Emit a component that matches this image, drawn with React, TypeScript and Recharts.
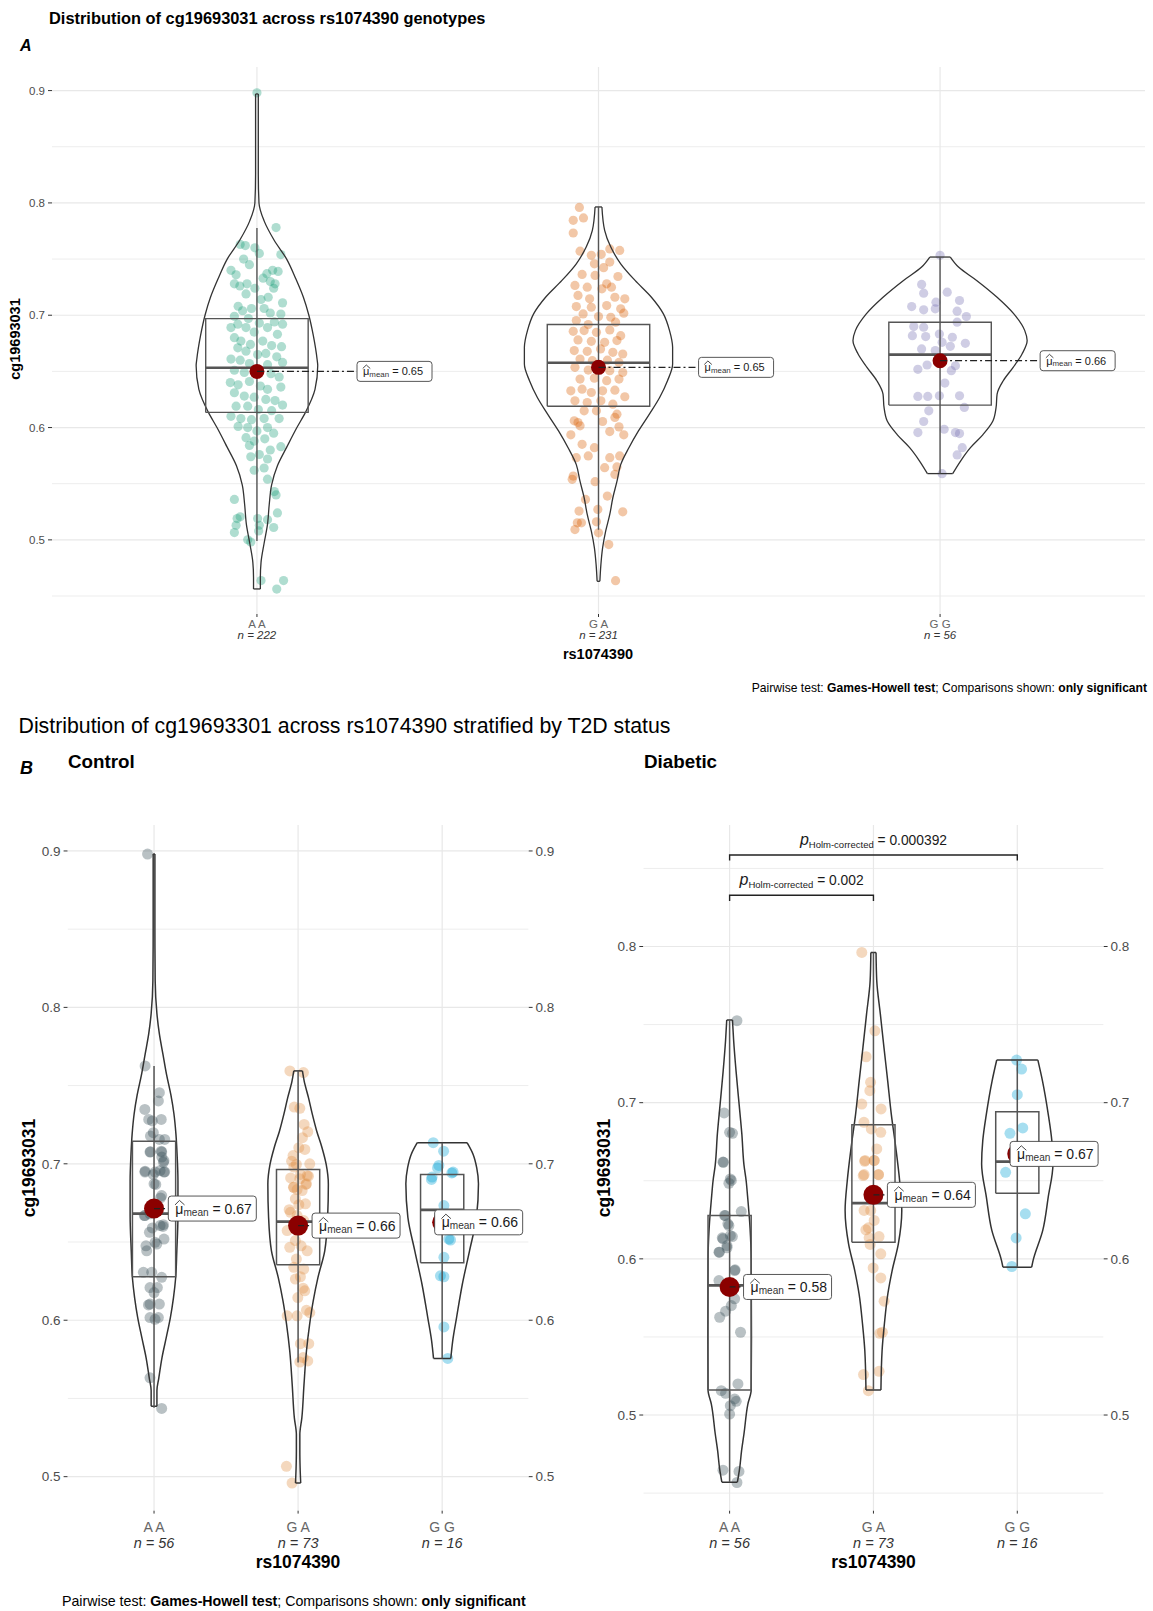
import React from 'react';
import { ComposedChart, Scatter, XAxis, YAxis } from 'recharts';

const FONT = '"Liberation Sans", Arial, Helvetica, sans-serif';

// ---------- categories ----------
const genotypeLabels = ['A A', 'G A', 'G G'];
const nPanelA = [222, 231, 56];
const nControl = [56, 73, 16];
const nDiabetic = [56, 73, 16];

const colorsA = ['#1b9e77', '#d95f02', '#7570b3'];
const colorsB = ['#374E55', '#DF8F44', '#00A1D5'];

// ---------- Panel A: violins [value, half-width] ----------
const violinA_AA = [[0.4563,0.01],[0.4665,0.01],[0.48,0.012],[0.497,0.021],[0.514,0.031],[0.5315,0.036],[0.549,0.043],[0.566,0.06],[0.583,0.088],[0.6,0.117],[0.6135,0.142],[0.634,0.17],[0.655,0.178],[0.661,0.176],[0.682,0.165],[0.7,0.152],[0.716,0.136],[0.733,0.113],[0.75,0.087],[0.767,0.05],[0.784,0.021],[0.8,0.006],[0.8255,0.004],[0.897,0.004]];
const violinA_GA = [[0.4631,0.004],[0.478,0.007],[0.4929,0.012],[0.5077,0.021],[0.5226,0.033],[0.5375,0.042],[0.552,0.054],[0.567,0.065],[0.582,0.089],[0.597,0.117],[0.612,0.149],[0.6268,0.179],[0.6417,0.202],[0.6565,0.217],[0.6714,0.217],[0.6863,0.208],[0.7012,0.19],[0.716,0.155],[0.731,0.107],[0.7458,0.065],[0.7607,0.036],[0.7756,0.018],[0.7964,0.01]];
const violinA_GG = [[0.559,0.037],[0.5702,0.06],[0.5821,0.089],[0.5935,0.125],[0.606,0.155],[0.6179,0.164],[0.6298,0.167],[0.6417,0.185],[0.6536,0.214],[0.6655,0.24],[0.6774,0.255],[0.6863,0.248],[0.7012,0.216],[0.716,0.167],[0.731,0.107],[0.7429,0.054],[0.7518,0.03]];

// boxes: [q1, median, q3, whiskerLow, whiskerHigh]
const boxesA = [[0.6135,0.6532,0.697,0.499,0.7776],[0.619,0.6577,0.6917,0.509,0.7964],[0.62,0.6649,0.6938,0.559,0.7518]];
const meansA = [0.65, 0.6536, 0.6595];
const meanLabelsA = ['0.65', '0.65', '0.66'];

// jitter points [offset, value]
const pointsA_AA = [[0,0.898],[0.056,0.778],[-0.049,0.763],[-0.034,0.762],[-0.006,0.76],[0.007,0.755],[0.07,0.754],[-0.039,0.75],[-0.022,0.745],[-0.076,0.74],[-0.061,0.736],[0.029,0.737],[0.046,0.74],[0.062,0.739],[0.018,0.733],[0.039,0.73],[0.053,0.728],[-0.066,0.728],[-0.05,0.726],[-0.029,0.728],[-0.006,0.724],[-0.032,0.719],[0.012,0.714],[0.033,0.716],[0.049,0.724],[0.075,0.711],[-0.055,0.708],[-0.042,0.704],[-0.016,0.706],[0.021,0.706],[0.039,0.702],[0.07,0.701],[-0.066,0.699],[-0.025,0.697],[0.007,0.693],[0.051,0.694],[0.075,0.692],[-0.076,0.689],[-0.056,0.692],[-0.032,0.689],[-0.008,0.685],[0.031,0.689],[0.06,0.683],[-0.066,0.68],[-0.047,0.677],[-0.019,0.674],[0.017,0.677],[0.043,0.673],[0.072,0.672],[-0.056,0.671],[-0.032,0.668],[0.002,0.665],[0.026,0.666],[0.058,0.663],[-0.076,0.661],[-0.049,0.66],[-0.022,0.657],[0.031,0.656],[0.075,0.658],[-0.066,0.651],[-0.037,0.649],[0.041,0.648],[0.065,0.645],[-0.078,0.64],[-0.055,0.638],[-0.022,0.641],[0.01,0.637],[0.031,0.634],[0.07,0.636],[-0.066,0.631],[-0.037,0.628],[-0.008,0.627],[0.026,0.625],[0.053,0.624],[0.075,0.62],[-0.061,0.619],[-0.027,0.619],[0.004,0.616],[0.043,0.615],[-0.076,0.61],[-0.047,0.608],[-0.016,0.607],[0.021,0.608],[0.065,0.608],[-0.055,0.601],[-0.027,0.6],[0,0.597],[0.031,0.6],[0.049,0.595],[-0.032,0.591],[-0.008,0.588],[0.023,0.59],[0.07,0.583],[-0.022,0.584],[0.039,0.58],[-0.018,0.574],[0.007,0.576],[0.031,0.572],[-0.008,0.562],[0.021,0.564],[0.031,0.554],[0.051,0.543],[0.056,0.54],[-0.066,0.536],[0.06,0.524],[-0.049,0.5205],[-0.058,0.519],[0.002,0.519],[0.031,0.518],[-0.061,0.513],[0.007,0.513],[0.049,0.511],[-0.066,0.5065],[0.005,0.508],[-0.027,0.5],[-0.018,0.498],[0.012,0.4638],[0.078,0.4638],[0.058,0.4562]];
const pointsA_GA = [[-0.056,0.796],[-0.074,0.7845],[-0.044,0.7866],[-0.074,0.7732],[-0.054,0.757],[0.033,0.759],[0.062,0.7577],[-0.021,0.7533],[0.008,0.7542],[0.033,0.7473],[-0.012,0.7458],[0.015,0.7423],[-0.048,0.7363],[-0.01,0.7354],[0.057,0.7345],[0.024,0.728],[-0.069,0.7265],[-0.033,0.725],[0.01,0.7235],[0.038,0.725],[-0.06,0.7176],[-0.026,0.7146],[0.048,0.716],[0.077,0.7146],[-0.065,0.7077],[-0.021,0.7071],[0.024,0.7086],[0.065,0.7057],[-0.045,0.7012],[0,0.6988],[0.036,0.6982],[0.074,0.7018],[-0.065,0.6952],[-0.03,0.6917],[0.05,0.6938],[-0.074,0.6857],[-0.042,0.6863],[-0.006,0.6848],[0.033,0.6869],[0.065,0.6818],[-0.06,0.678],[-0.021,0.6768],[0.018,0.6759],[0.054,0.6774],[-0.071,0.6685],[-0.033,0.6679],[0.006,0.67],[0.042,0.667],[0.071,0.6655],[-0.054,0.661],[-0.018,0.6595],[0.026,0.66],[0.06,0.658],[-0.069,0.6536],[-0.03,0.6512],[0.033,0.6506],[0.071,0.649],[-0.054,0.6432],[-0.012,0.644],[0.024,0.6417],[0.06,0.6432],[-0.081,0.6327],[-0.048,0.6342],[-0.021,0.6312],[0.012,0.6327],[0.048,0.6333],[0.077,0.6274],[-0.069,0.6238],[-0.033,0.6223],[0.007,0.6238],[0.042,0.6208],[-0.042,0.6149],[-0.006,0.6149],[0.054,0.6119],[-0.06,0.6045],[-0.054,0.6015],[-0.071,0.606],[0.012,0.6054],[0.048,0.609],[0.06,0.6006],[0.033,0.5964],[0.074,0.5935],[-0.048,0.5851],[-0.012,0.5821],[-0.081,0.5935],[-0.03,0.5747],[-0.065,0.5732],[0.033,0.5732],[0.062,0.5747],[0.018,0.5643],[0.054,0.5649],[-0.074,0.5568],[-0.077,0.5539],[0.048,0.5583],[-0.01,0.5518],[-0.038,0.536],[0.026,0.539],[-0.057,0.5256],[-0.002,0.5271],[0.071,0.525],[-0.062,0.5152],[-0.069,0.5092],[-0.05,0.5152],[-0.006,0.5161],[0,0.5063],[0.03,0.4958],[0.05,0.4637]];
const pointsA_GG = [[0,0.7533],[-0.054,0.7274],[-0.048,0.7196],[0.021,0.7205],[-0.012,0.7116],[0.057,0.7131],[-0.083,0.7077],[-0.048,0.7048],[-0.014,0.7057],[0.05,0.7036],[0.077,0.6988],[0.05,0.6938],[-0.077,0.6899],[-0.048,0.6893],[-0.081,0.6818],[-0.042,0.681],[-0.002,0.6833],[0.036,0.6804],[0.006,0.6759],[0.074,0.675],[0.03,0.6723],[-0.054,0.67],[-0.014,0.6685],[-0.065,0.6518],[-0.038,0.6557],[0.033,0.6506],[0.045,0.655],[0.014,0.6396],[-0.065,0.6277],[-0.036,0.6277],[-0.002,0.6283],[0.057,0.6283],[-0.033,0.6149],[0.071,0.6179],[-0.048,0.6054],[0.012,0.5985],[-0.065,0.5955],[0.045,0.5955],[0.057,0.5946],[0.065,0.5821],[0.05,0.5756],[0.006,0.5589]];

// ---------- Panel B: Control ----------
const violinC_AA = [[0.545,0.02],[0.555,0.02],[0.563,0.033],[0.576,0.055],[0.589,0.085],[0.602,0.114],[0.6145,0.135],[0.627,0.15],[0.644,0.158],[0.667,0.166],[0.689,0.166],[0.706,0.16],[0.719,0.152],[0.732,0.138],[0.744,0.117],[0.757,0.087],[0.77,0.062],[0.783,0.037],[0.796,0.02],[0.817,0.008],[0.85,0.006],[0.898,0.006]];
const violinC_GA = [[0.496,0.018],[0.5056,0.014],[0.5162,0.012],[0.527,0.012],[0.5376,0.026],[0.559,0.041],[0.5803,0.058],[0.5974,0.08],[0.6124,0.105],[0.6274,0.138],[0.6444,0.185],[0.666,0.205],[0.687,0.21],[0.6996,0.195],[0.7103,0.166],[0.721,0.129],[0.7316,0.099],[0.7423,0.072],[0.753,0.042],[0.7594,0.03]];
const violinC_GG = [[0.5756,0.06],[0.5867,0.073],[0.6017,0.1],[0.623,0.14],[0.6444,0.19],[0.6658,0.238],[0.6872,0.252],[0.6974,0.24],[0.706,0.215],[0.7135,0.173]];
const boxesC = [[0.6278,0.6682,0.7145,0.544,0.7626],[0.6355,0.663,0.6964,0.573,0.7594],[0.6368,0.6705,0.6932,0.5756,0.7135]];
const meansC = [0.6714, 0.6605, 0.6626];
const meanLabelsC = ['0.67', '0.66', '0.66'];
const pointsC_AA = [[-0.045,0.898],[-0.062,0.7626],[0.037,0.7455],[0.03,0.7402],[-0.064,0.7348],[-0.037,0.7284],[-0.012,0.7274],[0.05,0.7284],[-0.005,0.7199],[-0.025,0.7177],[0.074,0.7156],[0.037,0.7156],[-0.025,0.7077],[0.05,0.7081],[0.069,0.702],[0.054,0.7043],[-0.062,0.6953],[-0.005,0.6932],[0.074,0.6949],[0.012,0.6868],[0.045,0.6782],[-0.067,0.6669],[0.062,0.66],[-0.012,0.659],[-0.028,0.7075],[0.053,0.7075],[0.065,0.701],[0.042,0.6957],[-0.063,0.6947],[0.007,0.6947],[0.069,0.6947],[0,0.6872],[0.053,0.6797],[-0.063,0.6669],[-0.028,0.668],[0.042,0.6605],[0.065,0.6611],[-0.032,0.6562],[0.019,0.6487],[0.069,0.6519],[-0.056,0.6476],[0.007,0.6498],[-0.051,0.6444],[-0.074,0.6306],[-0.016,0.6306],[0.053,0.6274],[-0.028,0.6209],[0.023,0.6209],[0,0.6177],[-0.028,0.6103],[0.037,0.6103],[-0.039,0.6098],[-0.028,0.6017],[0.03,0.6017],[0.007,0.6006],[-0.028,0.5632],[0.053,0.5436]];
const pointsC_GA = [[-0.057,0.7594],[0.037,0.7583],[-0.027,0.7363],[0.012,0.7355],[0.042,0.7252],[0.067,0.7205],[0.03,0.7167],[0.005,0.7103],[0.047,0.7092],[-0.045,0.7017],[-0.012,0.6996],[-0.052,0.691],[0.017,0.6932],[0.072,0.6921],[-0.032,0.685],[-0.007,0.6835],[0.054,0.6868],[-0.062,0.6707],[0.005,0.6739],[-0.035,0.7053],[0.081,0.7],[-0.03,0.6979],[0.063,0.6925],[0.012,0.6904],[0.058,0.6872],[-0.03,0.685],[0.028,0.6829],[-0.019,0.6776],[0.051,0.6744],[-0.053,0.669],[-0.007,0.6669],[0.039,0.6637],[-0.076,0.6573],[-0.002,0.6573],[-0.019,0.6509],[-0.058,0.6466],[0.021,0.6476],[0.063,0.6444],[-0.012,0.6391],[-0.03,0.6338],[0.039,0.6327],[0.016,0.6278],[-0.019,0.6263],[0.035,0.6205],[0.046,0.6188],[-0.002,0.6145],[0.058,0.6064],[0.081,0.6049],[-0.076,0.6028],[-0.007,0.6028],[0.016,0.585],[0.074,0.585],[0.035,0.5761],[0.012,0.5733],[0.067,0.574],[-0.081,0.5066],[-0.042,0.4959]];
const pointsC_GG = [[-0.062,0.7135],[0.01,0.7081],[-0.032,0.6974],[0.067,0.6942],[-0.074,0.69],[-0.07,0.6915],[-0.023,0.699],[0.076,0.6947],[0.012,0.6733],[0.046,0.6519],[0.058,0.6513],[0.012,0.6402],[-0.012,0.6284],[0.012,0.6278],[0.012,0.5957],[0.039,0.5756]];

// ---------- Panel B: Diabetic ----------
const violinD_AA = [[0.457,0.054],[0.466,0.07],[0.477,0.083],[0.488,0.1],[0.507,0.127],[0.516,0.15],[0.55,0.152],[0.6,0.15],[0.62,0.142],[0.64,0.125],[0.65,0.115],[0.66,0.1],[0.68,0.085],[0.7,0.065],[0.72,0.045],[0.74,0.028],[0.7529,0.02]];
const violinD_GA = [[0.516,0.052],[0.5412,0.06],[0.5583,0.076],[0.5776,0.1],[0.5925,0.13],[0.6096,0.173],[0.631,0.197],[0.65,0.182],[0.6714,0.155],[0.6927,0.124],[0.714,0.099],[0.7354,0.073],[0.7567,0.048],[0.778,0.023],[0.7962,0.018]];
const violinD_GG = [[0.5947,0.1],[0.599,0.11],[0.6182,0.177],[0.6395,0.215],[0.6608,0.248],[0.6757,0.24],[0.6927,0.215],[0.714,0.175],[0.7273,0.143]];
const boxesD = [[0.516,0.583,0.6277,0.457,0.7529],[0.6107,0.6357,0.6859,0.516,0.7962],[0.642,0.6623,0.6942,0.5947,0.7273]];
const meansD = [0.582, 0.641, 0.6672];
const meanLabelsD = ['0.58', '0.64', '0.67'];
const pointsD_AA = [[0.051,0.7525],[-0.038,0.6934],[0,0.681],[0.02,0.6804],[-0.043,0.6618],[0.005,0.6512],[-0.005,0.6484],[-0.03,0.6277],[0.081,0.6303],[-0.005,0.6213],[0.005,0.6149],[-0.046,0.6128],[-0.018,0.6085],[-0.071,0.6043],[0.038,0.593],[-0.046,0.662],[0.012,0.6502],[-0.035,0.6278],[-0.012,0.6224],[-0.051,0.6135],[0.019,0.6143],[-0.018,0.6071],[-0.074,0.6043],[0.035,0.5925],[-0.074,0.5861],[0.035,0.5744],[0.012,0.5701],[-0.028,0.5665],[-0.069,0.5626],[0.076,0.553],[0.058,0.5199],[-0.058,0.5156],[-0.028,0.5139],[0.035,0.5103],[0.046,0.5088],[0.005,0.506],[0,0.5006],[-0.046,0.4647],[0.065,0.4639],[0.051,0.4568]];
const pointsD_GA = [[-0.081,0.7962],[0.01,0.746],[-0.051,0.7294],[-0.02,0.713],[-0.025,0.7077],[-0.081,0.6991],[0.053,0.696],[-0.066,0.6874],[-0.015,0.6832],[0.051,0.681],[0.023,0.6704],[-0.061,0.6625],[0.005,0.6629],[-0.071,0.6533],[0.035,0.6539],[-0.058,0.663],[0.005,0.663],[-0.065,0.654],[0.035,0.654],[-0.019,0.631],[-0.065,0.631],[0.005,0.6246],[-0.035,0.6199],[-0.053,0.6186],[0.039,0.6143],[-0.03,0.6135],[-0.023,0.6092],[0.051,0.6032],[-0.002,0.5942],[0.051,0.5878],[0.074,0.5729],[0.062,0.553],[0.044,0.5523],[-0.069,0.5259],[0.039,0.528],[-0.035,0.5156]];
const pointsD_GG = [[-0.005,0.7273],[0.03,0.7215],[0,0.7051],[0.038,0.6838],[-0.051,0.6804],[-0.03,0.668],[-0.081,0.6554],[0.056,0.6288],[-0.008,0.6134],[-0.038,0.5951]];

// significance brackets (Diabetic)
const bracketFrom = [1, 1];
const bracketTo = [3, 2];
const bracketValues = [0.8586, 0.8328];
const bracketPLabels = ['0.000392', '0.002'];

const Empty = () => <g />;

const violinRight = (g: number, v: number[][]) => v.map(([y, hw]) => ({ x: g + hw, y }));
const violinLeft = (g: number, v: number[][]) => v.map(([y, hw]) => ({ x: g - hw, y }));

function lineS(key: string, data: any[], stroke: string, width: number, type: any = 'linear', dash?: string) {
  return (
    <Scatter
      key={key}
      data={data}
      line={{ stroke, strokeWidth: width, strokeDasharray: dash }}
      lineJointType={type}
      shape={Empty}
      isAnimationActive={false}
      legendType="none"
    />
  );
}

function Panel(props: any) {
  const { width, height, margin, domain, ticks, minor, violins, points, boxes, means, meanLabels, labelDx, colors, ns, cfg, right, brackets } = props;
  const xTick = (p: any) => {
    const i = Math.round(p.payload.value) - 1;
    return (
      <g>
        <text x={p.x} y={p.y + cfg.dy1} textAnchor="middle" dominantBaseline="central" fontFamily={FONT} fontSize={cfg.xFs} fill="#666">{genotypeLabels[i]}</text>
        <text x={p.x} y={p.y + cfg.dy2} textAnchor="middle" dominantBaseline="central" fontFamily={FONT} fontSize={cfg.nFs} fontStyle="italic" fill="#333">{'n = ' + ns[i]}</text>
      </g>
    );
  };
  const tickStyle = { fontSize: cfg.yFs, fill: '#4d4d4d', fontFamily: FONT };
  const children: any[] = [];
  minor.forEach((v: number, i: number) => children.push(lineS('mn' + i, [{ x: 0.4, y: v }, { x: 3.6, y: v }], '#ededed', 1)));
  ticks.forEach((v: number, i: number) => children.push(lineS('mj' + i, [{ x: 0.4, y: v }, { x: 3.6, y: v }], '#e8e8e8', 1.2)));
  [1, 2, 3].forEach((g: number) => children.push(lineS('vg' + g, [{ x: g, y: domain[0] }, { x: g, y: domain[1] }], '#e8e8e8', 1.2)));
  points.forEach((pts: number[][], gi: number) => {
    const g = gi + 1;
    children.push(
      <Scatter key={'pt' + gi} data={pts.map(([dx, y]) => ({ x: g + dx, y }))} isAnimationActive={false} legendType="none"
        shape={(p: any) => <circle cx={p.cx} cy={p.cy} r={cfg.ptR} fill={colors[gi]} fillOpacity={cfg.ptOp} />} />
    );
  });
  violins.forEach((v: number[][], gi: number) => {
    const g = gi + 1;
    const b = v[0], t = v[v.length - 1];
    children.push(lineS('vr' + gi, violinRight(g, v), '#333', cfg.vW, 'monotoneY'));
    children.push(lineS('vl' + gi, violinLeft(g, v), '#333', cfg.vW, 'monotoneY'));
    children.push(lineS('vb' + gi, [{ x: g - b[1], y: b[0] }, { x: g + b[1], y: b[0] }], '#333', cfg.vW));
    children.push(lineS('vt' + gi, [{ x: g - t[1], y: t[0] }, { x: g + t[1], y: t[0] }], '#333', cfg.vW));
  });
  boxes.forEach((bx: number[], gi: number) => {
    const g = gi + 1;
    const [q1, med, q3, lo, hi] = bx;
    const h = 0.15;
    children.push(lineS('wh' + gi, [{ x: g, y: lo }, { x: g, y: hi }], '#555', cfg.bW));
    children.push(lineS('bx' + gi, [{ x: g - h, y: q1 }, { x: g + h, y: q1 }, { x: g + h, y: q3 }, { x: g - h, y: q3 }, { x: g - h, y: q1 }], '#555', cfg.bW));
    children.push(lineS('md' + gi, [{ x: g - h, y: med }, { x: g + h, y: med }], '#555', cfg.mW));
  });
  means.forEach((m: number, gi: number) => {
    const g = gi + 1;
    children.push(
      <Scatter key={'mean' + gi} data={[{ x: g, y: m }]} isAnimationActive={false} legendType="none"
        shape={(p: any) => <circle cx={p.cx} cy={p.cy} r={cfg.meanR} fill="#8b0000" />} />
    );
  });
  means.forEach((m: number, gi: number) => {
    const g = gi + 1;
    children.push(lineS('cn' + gi, [{ x: g, y: m }, { x: g + labelDx[gi], y: m }], '#222', cfg.cW, 'linear', cfg.dash));
  });
  means.forEach((m: number, gi: number) => {
    const g = gi + 1;
    const fs = cfg.lFs;
    children.push(
      <Scatter key={'lab' + gi} data={[{ x: g + labelDx[gi], y: m }]} isAnimationActive={false} legendType="none"
        shape={(p: any) => {
          const x0 = p.cx + cfg.lPad;
          return (
            <g>
              <rect x={p.cx} y={p.cy - cfg.lH / 2} width={cfg.lW} height={cfg.lH} rx={3} fill="#fff" stroke="#444" strokeWidth={0.9} />
              <path d={`M${x0 - 0.3},${p.cy - fs * 0.26} L${x0 + fs * 0.3},${p.cy - fs * 0.58} L${x0 + fs * 0.66},${p.cy - fs * 0.26}`} fill="none" stroke="#1a1a1a" strokeWidth={0.8} />
              <text x={x0} y={p.cy} dominantBaseline="central" fontFamily={FONT} fontSize={fs} fill="#1a1a1a">
                <tspan>{'\u03BC'}</tspan>
                <tspan fontSize={fs * 0.72} dy={fs * 0.22} fill="#333">mean</tspan>
                <tspan dy={-fs * 0.22}>{' = ' + meanLabels[gi]}</tspan>
              </text>
            </g>
          );
        }} />
    );
  });
  if (brackets) {
    brackets.from.forEach((f: number, i: number) => {
      const t = brackets.to[i];
      const v = brackets.values[i];
      children.push(lineS('br' + i, [{ x: f, y: v - 0.0036 }, { x: f, y: v }, { x: t, y: v }, { x: t, y: v - 0.0036 }], '#222', 1.4));
      children.push(
        <Scatter key={'brl' + i} data={[{ x: (f + t) / 2, y: v }]} isAnimationActive={false} legendType="none"
          shape={(p: any) => (
            <text x={p.cx} y={p.cy - 10} textAnchor="middle" fontFamily={FONT} fill="#1a1a1a">
              <tspan fontSize={16} fontStyle="italic">p</tspan>
              <tspan fontSize={9.5} dy={3}>Holm-corrected</tspan>
              <tspan fontSize={13.8} dy={-3}>{' = ' + brackets.labels[i]}</tspan>
            </text>
          )} />
      );
    });
  }
  return (
    <ComposedChart width={width} height={height} margin={margin}>
      <XAxis type="number" dataKey="x" domain={[0.4, 3.6]} ticks={[1, 2, 3]} interval={0} allowDataOverflow axisLine={false}
        tickLine={{ stroke: '#333' }} tickSize={3} tickMargin={2} height={50} tick={xTick} />
      <YAxis type="number" dataKey="y" domain={domain} ticks={ticks} interval={0} allowDataOverflow axisLine={false}
        tickLine={{ stroke: '#333' }} tickSize={4} tickMargin={3} width={40} tick={tickStyle}
        tickFormatter={(v: number) => v.toFixed(1)} />
      {right ? (
        <YAxis yAxisId="r" orientation="right" type="number" dataKey="y" domain={domain} ticks={ticks} interval={0} allowDataOverflow axisLine={false}
          tickLine={{ stroke: '#333' }} tickSize={4} tickMargin={3} width={40} tick={tickStyle}
          tickFormatter={(v: number) => v.toFixed(1)} />
      ) : null}
      {children}
    </ComposedChart>
  );
}

const cfgA = { ptR: 4.6, ptOp: 0.35, vW: 1.3, bW: 1.4, mW: 2.6, meanR: 7.5, cW: 1.2, dash: '7 3 2 3', lW: 75, lH: 20, lPad: 6, lFs: 11, yFs: 11.5, xFs: 11.5, nFs: 11.5, dy1: 5, dy2: 16 };
const cfgB = { ptR: 5.5, ptOp: 0.35, vW: 1.5, bW: 1.5, mW: 2.8, meanR: 10, cW: 1.3, dash: '6 3 2 3', lW: 88, lH: 25, lPad: 7, lFs: 14, yFs: 13.5, xFs: 14, nFs: 14.5, dy1: 11.4, dy2: 27 };

export default function App() {
  const T = (p: any) => <text fontFamily={FONT} dominantBaseline="central" fill="#000" {...p} />;
  return (
    <div style={{ position: 'absolute', left: 0, top: 0, width: 1153, height: 1611, background: '#fff', overflow: 'hidden' }}>
      <div style={{ position: 'absolute', left: 0, top: 0 }}>
        <Panel width={1153} height={700} margin={{ top: 67, right: 8, bottom: 36, left: 12 }}
          domain={[0.434, 0.921]} ticks={[0.5, 0.6, 0.7, 0.8, 0.9]} minor={[0.45, 0.55, 0.65, 0.75, 0.85]}
          violins={[violinA_AA, violinA_GA, violinA_GG]} points={[pointsA_AA, pointsA_GA, pointsA_GG]}
          boxes={boxesA} means={meansA} meanLabels={meanLabelsA} labelDx={[0.293, 0.293, 0.293]}
          colors={colorsA} ns={nPanelA} cfg={cfgA} />
      </div>
      <div style={{ position: 'absolute', left: 0, top: 790 }}>
        <Panel width={576} height={800} margin={{ top: 35, right: 7.4, bottom: 29.4, left: 27.6 }}
          domain={[0.4783, 0.9166]} ticks={[0.5, 0.6, 0.7, 0.8, 0.9]} minor={[0.55, 0.65, 0.75, 0.85]}
          violins={[violinC_AA, violinC_GA, violinC_GG]} points={[pointsC_AA, pointsC_GA, pointsC_GG]}
          boxes={boxesC} means={meansC} meanLabels={meanLabelsC} labelDx={[0.099, 0.097, -0.052]}
          colors={colorsB} ns={nControl} cfg={cfgB} right />
      </div>
      <div style={{ position: 'absolute', left: 576, top: 790 }}>
        <Panel width={577} height={800} margin={{ top: 35, right: 9.4, bottom: 29.4, left: 27.3 }}
          domain={[0.4388, 0.8778]} ticks={[0.5, 0.6, 0.7, 0.8]} minor={[0.45, 0.55, 0.65, 0.75, 0.85]}
          violins={[violinD_AA, violinD_GA, violinD_GG]} points={[pointsD_AA, pointsD_GA, pointsD_GG]}
          boxes={boxesD} means={meansD} meanLabels={meanLabelsD} labelDx={[0.097, 0.097, -0.05]}
          colors={colorsB} ns={nDiabetic} cfg={cfgB} right
          brackets={{ from: bracketFrom, to: bracketTo, values: bracketValues, labels: bracketPLabels }} />
      </div>
      <svg width={1153} height={1611} style={{ position: 'absolute', left: 0, top: 0, pointerEvents: 'none' }}>
        <T x={49} y={17.5} fontSize={16.4} fontWeight="bold">Distribution of cg19693031 across rs1074390 genotypes</T>
        <T x={20} y={45} fontSize={16} fontWeight="bold" fontStyle="italic">A</T>
        <T x={0} y={0} fontSize={14.5} fontWeight="bold" textAnchor="middle" transform="translate(15,339) rotate(-90)">cg19693031</T>
        <T x={598} y={653.5} fontSize={14.5} fontWeight="bold" textAnchor="middle">rs1074390</T>
        <T x={1147} y={687.5} fontSize={12.1} textAnchor="end">
          <tspan>Pairwise test: </tspan><tspan fontWeight="bold">Games-Howell test</tspan><tspan>; Comparisons shown: </tspan><tspan fontWeight="bold">only significant</tspan>
        </T>
        <T x={18.5} y={725.5} fontSize={21.3}>Distribution of cg19693301 across rs1074390 stratified by T2D status</T>
        <T x={20} y={768} fontSize={18} fontWeight="bold" fontStyle="italic">B</T>
        <T x={68} y={761.5} fontSize={18.8} fontWeight="bold">Control</T>
        <T x={644} y={761.5} fontSize={18.8} fontWeight="bold">Diabetic</T>
        <T x={0} y={0} fontSize={17.5} fontWeight="bold" textAnchor="middle" transform="translate(29,1168) rotate(-90)">cg19693031</T>
        <T x={0} y={0} fontSize={17.5} fontWeight="bold" textAnchor="middle" transform="translate(604,1168) rotate(-90)">cg19693031</T>
        <T x={298} y={1562} fontSize={17.5} fontWeight="bold" textAnchor="middle">rs1074390</T>
        <T x={873.5} y={1562} fontSize={17.5} fontWeight="bold" textAnchor="middle">rs1074390</T>
        <T x={62} y={1601} fontSize={14.2}>
          <tspan>Pairwise test: </tspan><tspan fontWeight="bold">Games-Howell test</tspan><tspan>; Comparisons shown: </tspan><tspan fontWeight="bold">only significant</tspan>
        </T>
      </svg>
    </div>
  );
}
